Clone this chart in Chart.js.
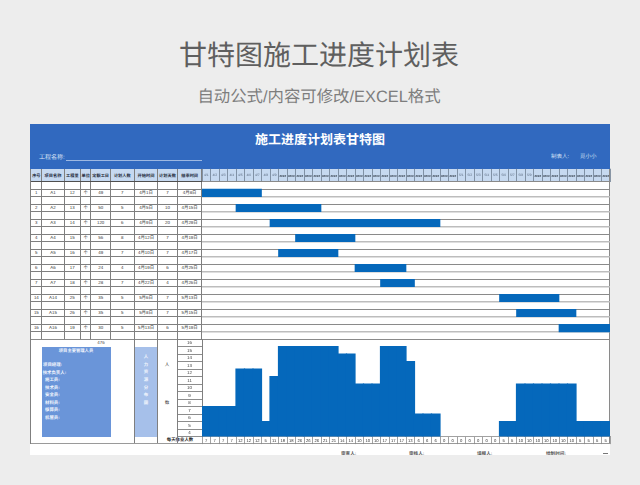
<!DOCTYPE html>
<html lang="zh"><head><meta charset="utf-8">
<script src="https://cdn.jsdelivr.net/npm/chart.js@4/dist/chart.umd.min.js"></script>
<style>
html,body{margin:0;padding:0;width:640px;height:485px;overflow:hidden;background:#ededed;font-family:"Liberation Sans","Noto Sans CJK SC",sans-serif;text-rendering:geometricPrecision}
.a{position:absolute;white-space:nowrap}
.c{transform:translate(-50%,-50%);line-height:1}
.l{transform:translateY(-50%);line-height:1}
canvas{position:absolute;display:block}
</style></head><body><div id="root"></div>
<canvas id="gantt" width="420" height="180" style="left:195px;top:165px"></canvas>
<canvas id="load" width="445" height="120" style="left:170px;top:330px"></canvas>
<script>
const columnHeads=['序号','项目名称','工程量','单位','定额工日','计划人数','开始时间','计划天数','结束时间'];
const taskIds=['1','2','3','4','5','6','7','14','15','16'];
const taskNames=['A1','A2','A3','A4','A5','A6','A7','A14','A15','A16'];
const quantities=[12,13,14,15,16,17,18,25,26,19];
const units=['个','个','个','个','个','个','个','个','个','个'];
const laborDays=[49,50,120,56,49,24,28,35,35,30];
const plannedPeople=[7,5,6,8,7,4,7,5,5,5];
const startDates=['4月1日','4月5日','4月9日','4月12日','4月10日','4月19日','4月22日','5月6日','5月8日','5月13日'];
const plannedDays=[7,10,20,7,7,6,4,7,7,6];
const endDates=['4月8日','4月15日','4月29日','4月19日','4月17日','4月25日','4月26日','5月13日','5月15日','5月19日'];
const startSlots=[0,4,8,11,9,18,21,35,37,42];
const endSlots=[7,14,28,18,16,24,25,42,44,48];
const dayLabels=['4/1','4/2','4/3','4/4','4/5','4/6','4/7','4/8','4/9','####','####','####','####','####','####','####','####','####','####','####','####','####','####','####','####','####','####','####','####','####','5/1','5/2','5/3','5/4','5/5','5/6','5/7','5/8','5/9','####','####','####','####','####','####','####','####','####'];
const dailyWorkers=[7,7,7,7,12,12,12,5,11,18,18,26,26,26,21,21,14,14,10,10,10,17,17,17,13,6,6,6,0,0,0,0,0,0,0,5,5,10,10,10,10,10,10,10,5,5,5,5];
const barLevels=[7,7,7,7,12,12,12,5,11,15,15,15,15,15,15,15,14,14,10,10,10,15,15,15,13,6,6,6,0,0,0,0,0,0,0,5,5,10,10,10,10,10,10,10,5,5,5,5];
const levelLabels=['16','15','14','13','12','11','10','9','8','7','6','5','4'];
const staffRoles=['项目经理:','技术负责人:','施工员:','技术员:','安全员:','材料员:','核算员:','机管员:'];
const staffY=[365,373,380,388,395,403,410,418];
const staffX=[43,42.7,45,45,45,45,45,45];
const resourceChars=['人','力','资','源','分','布','图'];
const signLabels=['审查人:','审核人:','填报人:','绘制时间:'];
const signX=[349,417,485,554];

const root=document.getElementById('root');
function box(x,y,w,h,bg){const d=document.createElement('div');d.className='a';d.style.cssText=`left:${x}px;top:${y}px;width:${w}px;height:${h}px;background:${bg}`;root.appendChild(d);return d;}
function txt(s,x,y,size,color,bold,cls){const d=document.createElement('div');d.className='a '+(cls||'c');d.textContent=s;d.style.cssText=`left:${x}px;top:${y}px;font-size:${size}px;color:${color};font-weight:${bold?700:400}`;root.appendChild(d);return d;}

txt('甘特图施工进度计划表',319,55.5,28,'#5f5f5f',false);
txt('自动公式/内容可修改/EXCEL格式',319,97,16.4,'#7d7d7d',false);
box(30,124,580,331,'#ffffff');
box(30,124,580,45,'#3169bf');
txt('施工进度计划表甘特图',320,139,13,'#ffffff',true);
txt('工程名称:',39,158,6,'#d8e3f5',false,'l');
box(66,160,136,0.7,'#9db8e2');
txt('制表人:',551,158,5.5,'#d8e3f5',false,'l');
txt('觅小小',580,158,5.5,'#d8e3f5',false,'l');
box(31,169,579,12.7,'#c6d9f0');

const colX=[31,41.7,64.3,80.3,91,110.3,134.3,157.7,177.3,202];
const rowTop=181.7,rowH=7.505;
const dark='#7f7f7f';
for(let i=0;i<=20;i++){box(31,rowTop+i*rowH-0.4,171,0.9,dark);}
colX.forEach((x,i)=>{box(x-0.6,169,1.1,170.3,dark);});
box(31,181.3,171,1,'#4f4f4f');
columnHeads.forEach((h,i)=>txt(h,(colX[i]+colX[i+1])/2,175.5,4.2,'#1e2a3a',true));
const cols=[taskIds,taskNames,quantities,units,laborDays,plannedPeople,startDates,plannedDays,endDates];
taskIds.forEach((_,r)=>{const y=rowTop+(2*r+1.5)*rowH;cols.forEach((c,i)=>txt(String(c[r]),(colX[i]+colX[i+1])/2,y,4.4,'#333',false));});

/* lower block */
box(31,339,579,0.9,'#8a8a8a');
txt('476',101,343,4.4,'#444',false);
box(41.7,346.7,69,90,'#6a95d9');
txt('项目主要管理人员',76,350.5,4.3,'#f2f6fd',true);
staffRoles.forEach((s,i)=>txt(s,staffX[i],staffY[i],4.4,'#f2f6fd',true,'l'));
box(134.6,346.7,22.6,90,'#a6c0ea');
resourceChars.forEach((s,i)=>txt(s,146,357.3+i*7.55,4.4,'#f2f6fd',true));
txt('人',167,365,4.6,'#333',false);
txt('数',167,403,4.6,'#333',false);
txt('每天作业人数',180,440,4.4,'#222',true);
[31,134.3,157.7,177.3].forEach(x=>box(x-0.6,339,1.1,105,dark));
box(609,169,1.1,275,'#8a8a8a');
box(31,443.2,579,1.1,'#9a9a9a');
const sheetClip=box(30,450,580,5,'transparent');sheetClip.style.overflow='hidden';
signLabels.forEach((s,i)=>{const d=document.createElement('div');d.className='a';d.textContent=s;d.style.cssText=`left:${signX[i]-30-8}px;top:1px;font-size:4.6px;line-height:1.2;color:#555;font-weight:700`;sheetClip.appendChild(d);});
box(603,453.3,5,1,'#777');

const crispText={id:'crispText',beforeDraw(chart){chart.ctx.textRendering='geometricPrecision';}};

/* Gantt chart */
const ganttRows=[],ganttBars=[];
ganttRows.push('');ganttBars.push(null);
taskNames.forEach((n,i)=>{ganttRows.push(n);ganttBars.push([startSlots[i],endSlots[i]]);ganttRows.push('');ganttBars.push(null);});
const BLUE='#0568bb';
new Chart(document.getElementById('gantt'),{
 type:'bar',plugins:[crispText],
 data:{labels:ganttRows.map((r,i)=>i),datasets:[{data:ganttBars,backgroundColor:BLUE,barPercentage:1,categoryPercentage:1,borderWidth:0}]},
 options:{indexAxis:'y',responsive:false,animation:false,devicePixelRatio:1,
  layout:{padding:{left:7,right:5,top:3.7,bottom:5.7}},
  plugins:{legend:{display:false},tooltip:{enabled:false}},
  scales:{
   x:{type:'linear',min:0,max:48,display:false},
   xTop:{type:'category',axis:'x',position:'top',labels:dayLabels,offset:true,
    border:{display:false},
    grid:{drawOnChartArea:false,drawTicks:true,tickLength:13,offset:true,tickColor:'#6f7f92',lineWidth:0.8,tickWidth:0.8},
    ticks:{autoSkip:false,maxRotation:0,minRotation:0,padding:-8.8,
     font:c=>({size:dayLabels[c.index]==='####'?3:3.4,family:'"Liberation Sans",sans-serif',weight:dayLabels[c.index]==='####'?'bold':'normal'}),
     color:c=>dayLabels[c.index]==='####'?'#1c2530':'#5d6d82'},
    afterFit:s=>{s.height=13;}},
   y:{type:'category',offset:true,
    border:{display:false},
    grid:{offset:true,drawTicks:false,
     color:c=>(c.index===undefined||c.index%2===1||c.index===0)?'#8a8a8a':'#bdbdbd',
     lineWidth:c=>(c.index===undefined||c.index%2===1||c.index===0)?1:1.5},
    ticks:{display:false,autoSkip:false},
    afterFit:s=>{s.width=0;}}
  }}
});

/* Daily workforce histogram */
new Chart(document.getElementById('load'),{
 type:'bar',plugins:[crispText],
 data:{labels:dailyWorkers.map(String),datasets:[{data:barLevels,backgroundColor:BLUE,barPercentage:1,categoryPercentage:1,borderWidth:0,inflateAmount:0.6}]},
 options:{responsive:false,animation:false,devicePixelRatio:1,
  layout:{padding:{left:7,right:5,top:9.1,bottom:5.9}},
  plugins:{legend:{display:false},tooltip:{enabled:false}},
  scales:{
   x:{type:'category',offset:true,border:{display:true,color:'#8a8a8a',width:0.8},
    grid:{drawOnChartArea:false,drawTicks:true,tickLength:7.5,offset:true,tickColor:'#8a8a8a',tickWidth:0.8},
    ticks:{autoSkip:false,maxRotation:0,minRotation:0,padding:-5.9,font:{size:4.2,family:'"Liberation Sans",sans-serif'},color:'#333'},
    afterFit:s=>{s.height=7.5;}},
   y:{type:'linear',min:3,max:16,display:false},
   yCells:{type:'category',axis:'y',position:'left',labels:levelLabels,offset:true,border:{display:true,color:'#7f7f7f',width:1},
    grid:{drawOnChartArea:false,drawTicks:true,tickLength:25,offset:true,tickColor:'#7f7f7f',tickWidth:0.9},
    ticks:{autoSkip:false,crossAlign:'center',padding:-15,font:{size:4.4,family:'"Liberation Sans",sans-serif'},color:'#333'},
    afterFit:s=>{s.width=25;}}
  }}
});
</script></body></html>
